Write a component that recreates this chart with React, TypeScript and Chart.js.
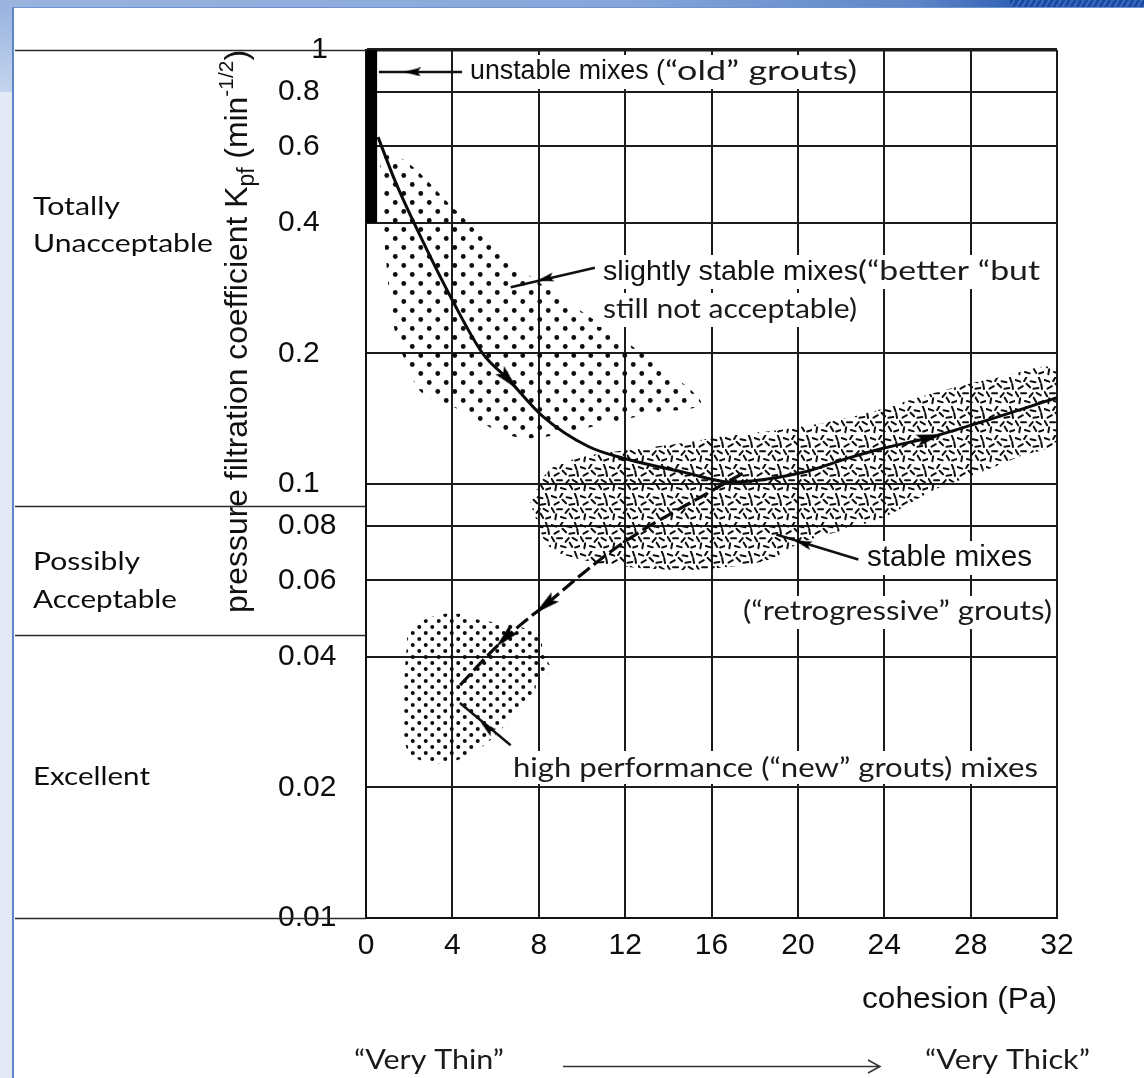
import React, { useEffect, useRef } from "react";
import { Chart, registerables } from "chart.js";

Chart.register(...registerables);

const HELV = '"Liberation Sans", Arial, Helvetica, sans-serif';
const CAL = 'Lato, "Open Sans", sans-serif';

// ---- axes ----
const xTickValues = [0, 4, 8, 12, 16, 20, 24, 28, 32];
const xTickLabels = ["0", "4", "8", "12", "16", "20", "24", "28", "32"];
const yTickValues = [0.01, 0.02, 0.04, 0.06, 0.08, 0.1, 0.2, 0.4, 0.6, 0.8, 1];
const yTickLabels = ["0.01", "0.02", "0.04", "0.06", "0.08", "0.1", "0.2", "0.4", "0.6", "0.8", "    1"];

// ---- acceptance bands (left side) ----
const bandDividers = [1, 0.089, 0.045, 0.01];
const bandNames = ["Totally", "Unacceptable", "Possibly", "Acceptable", "Excellent"];

// ---- marks (cohesion Pa, Kpf) ----
const unstableBar = [
  { x: 0.26, y: 1 },
  { x: 0.26, y: 0.4 },
];
const mainCurve = [
  { x: 0.56, y: 0.63 }, { x: 1.34, y: 0.5 }, { x: 2.6, y: 0.365 }, { x: 4.0, y: 0.265 },
  { x: 5.4, y: 0.2 }, { x: 6.6, y: 0.174 }, { x: 8.2, y: 0.143 }, { x: 10.3, y: 0.122 },
  { x: 12.1, y: 0.114 }, { x: 14.7, y: 0.1065 }, { x: 16.9, y: 0.101 }, { x: 20.1, y: 0.106 },
  { x: 22.4, y: 0.115 }, { x: 24.0, y: 0.121 }, { x: 26.1, y: 0.128 }, { x: 28.1, y: 0.137 },
  { x: 32, y: 0.158 },
];
const dashedPath = [
  { x: 4.36, y: 0.0344 }, { x: 5.75, y: 0.0408 }, { x: 7.14, y: 0.0473 }, { x: 8.3, y: 0.0526 },
  { x: 10.24, y: 0.0634 }, { x: 12.1, y: 0.0743 }, { x: 16.08, y: 0.0969 }, { x: 17.57, y: 0.1066 },
];
const slightlyRegion = [
  { x: 0.65, y: 0.59 }, { x: 1.95, y: 0.55 }, { x: 4.0, y: 0.435 }, { x: 6.45, y: 0.333 },
  { x: 8.75, y: 0.275 }, { x: 11.9, y: 0.215 }, { x: 14.9, y: 0.167 }, { x: 15.5, y: 0.152 },
  { x: 13.4, y: 0.146 }, { x: 10.3, y: 0.135 }, { x: 7.05, y: 0.128 }, { x: 4.1, y: 0.15 },
  { x: 2.6, y: 0.162 }, { x: 1.95, y: 0.186 }, { x: 1.35, y: 0.223 }, { x: 0.9, y: 0.34 },
  { x: 0.65, y: 0.54 }, { x: 0.65, y: 0.59 },
];
const stableRegion = [
  { x: 7.6, y: 0.0904 }, { x: 8.5, y: 0.1077 }, { x: 10.05, y: 0.1154 }, { x: 12.1, y: 0.1198 },
  { x: 14.7, y: 0.1243 }, { x: 16.3, y: 0.1283 }, { x: 20.1, y: 0.1353 }, { x: 23.2, y: 0.1458 },
  { x: 26.3, y: 0.1621 }, { x: 29.4, y: 0.1764 }, { x: 32, y: 0.183 }, { x: 32, y: 0.1263 },
  { x: 30.2, y: 0.1154 }, { x: 27.9, y: 0.1038 }, { x: 26.3, y: 0.0969 }, { x: 24.0, y: 0.0839 },
  { x: 22.1, y: 0.0783 }, { x: 20.1, y: 0.0731 }, { x: 18.6, y: 0.0668 }, { x: 16.3, y: 0.064 },
  { x: 14.7, y: 0.0634 }, { x: 12.1, y: 0.0644 }, { x: 10.05, y: 0.0668 }, { x: 8.5, y: 0.0716 },
  { x: 7.9, y: 0.0826 }, { x: 7.6, y: 0.0904 },
];
const highPerfRegion = [
  { x: 1.9, y: 0.0456 }, { x: 2.65, y: 0.0486 }, { x: 4.0, y: 0.0504 }, { x: 5.3, y: 0.0486 },
  { x: 7.15, y: 0.0468 }, { x: 8.05, y: 0.0444 }, { x: 8.2, y: 0.0408 }, { x: 8.55, y: 0.0373 },
  { x: 7.95, y: 0.0353 }, { x: 7.75, y: 0.0323 }, { x: 6.8, y: 0.029 }, { x: 5.9, y: 0.0261 },
  { x: 4.95, y: 0.024 }, { x: 3.75, y: 0.0228 }, { x: 2.5, y: 0.0231 }, { x: 1.9, y: 0.0244 },
  { x: 1.7, y: 0.0302 }, { x: 1.8, y: 0.0373 }, { x: 1.9, y: 0.043 }, { x: 1.9, y: 0.0456 },
];
const leaderUnstable = [{ x: 0.6, y: 0.89 }, { x: 4.45, y: 0.89 }];
const leaderSlightly = [{ x: 6.7, y: 0.284 }, { x: 10.6, y: 0.315 }];
const leaderStable = [{ x: 19.0, y: 0.0765 }, { x: 22.8, y: 0.067 }];
const leaderHighPerf = [{ x: 4.35, y: 0.0313 }, { x: 6.7, y: 0.025 }];

const curveArrows = [
  { x: 6.6, y: 0.174 }, { x: 26.1, y: 0.128 }, { x: 8.3, y: 0.0526 }, { x: 6.44, y: 0.0442 },
];
const curveArrowAngles = [137, 76, 231, 225];
const leaderArrows = [
  { x: 2.15, y: 0.89 }, { x: 8.3, y: 0.297 }, { x: 20.25, y: 0.073 }, { x: 5.6, y: 0.0275 },
];
const leaderArrowAngles = [270, 257, 287, 310];

// ---- helpers ----
function makeTile(w: number, h: number, draw: (g: CanvasRenderingContext2D) => void) {
  const c = document.createElement("canvas");
  c.width = w;
  c.height = h;
  const g = c.getContext("2d")!;
  draw(g);
  return c;
}

function dotTile(w: number, h: number, r: number) {
  return makeTile(w, h, (g) => {
    g.fillStyle = "#0d0d0d";
    const pts = [
      [w * 0.25, h * 0.25],
      [w * 0.75, h * 0.75],
    ];
    for (const [px, py] of pts) {
      g.beginPath();
      g.arc(px, py, r, 0, Math.PI * 2);
      g.fill();
    }
  });
}

function dashTile() {
  const marks = [
    [3, 4, 20], [11, 2, -60], [19, 5, 10], [26, 3, 70], [6, 11, -30], [14, 9, 45],
    [22, 12, -10], [28, 10, 80], [2, 18, 60], [9, 17, 0], [17, 19, -50], [25, 18, 30],
    [5, 25, -80], [13, 26, 15], [21, 24, 60], [28, 26, -20],
  ];
  const sc = 0.95;
  return makeTile(Math.round(30 * sc), Math.round(30 * sc), (g) => {
    g.strokeStyle = "#0d0d0d";
    g.lineWidth = 2.0;
    g.lineCap = "round";
    for (const [mx0, my0, a] of marks) {
      const mx = mx0 * sc;
      const my = my0 * sc;
      const rad = (a * Math.PI) / 180;
      const dx = Math.cos(rad) * 2.5;
      const dy = Math.sin(rad) * 2.5;
      g.beginPath();
      g.moveTo(mx - dx, my - dy);
      g.lineTo(mx + dx, my + dy);
      g.stroke();
    }
  });
}

function arrowHead(w: number, l: number) {
  return makeTile(w, l, (g) => {
    g.fillStyle = "#000";
    g.beginPath();
    g.moveTo(w / 2, 0);
    g.lineTo(w, l);
    g.lineTo(w / 2, l * 0.8);
    g.lineTo(0, l);
    g.closePath();
    g.fill();
  });
}

type Seg = { t: string; font: string; size: number; w?: number; dy?: number; color?: string };

function drawSegs(ctx: CanvasRenderingContext2D, segs: Seg[], x: number, y: number) {
  let cx = x;
  for (const s of segs) {
    ctx.save();
    ctx.font = `${s.size}px ${s.font}`;
    ctx.textBaseline = "middle";
    ctx.textAlign = "left";
    ctx.fillStyle = s.color || "#111";
    const m = ctx.measureText(s.t).width;
    const k = s.w ? s.w / m : 1;
    ctx.translate(cx, y + (s.dy || 0));
    ctx.scale(k, 1);
    ctx.fillText(s.t, 0, 0);
    ctx.restore();
    cx += m * k;
  }
}

const textPlugin = {
  id: "texts",
  afterDraw(chart: any) {
    const ctx: CanvasRenderingContext2D = chart.ctx;
    const ys = chart.scales.y;
    const area = chart.chartArea;
    ctx.save();

    // band divider lines at left
    ctx.strokeStyle = "#2a2a2a";
    ctx.lineWidth = 1.6;
    for (const v of bandDividers) {
      const py = Math.round(ys.getPixelForValue(v)) + 0.5;
      ctx.beginPath();
      ctx.moveTo(15, py);
      ctx.lineTo(area.left, py);
      ctx.stroke();
    }

    // band names
    const bandPos: [number, number][] = [[207, 87], [244, 180], [562, 107], [600, 144], [777, 117]];
    bandNames.forEach((n, i) => {
      drawSegs(ctx, [{ t: n, font: CAL, size: 25, w: bandPos[i][1], color: "#0d0d0d" }], 33, bandPos[i][0]);
    });

    // y axis title (rotated)
    ctx.save();
    ctx.translate(247, 613);
    ctx.rotate(-Math.PI / 2);
    const tsegs: Seg[] = [
      { t: "pressure filtration coefficient K", font: HELV, size: 32 },
      { t: "pf", font: HELV, size: 23, dy: 7 },
      { t: " (min", font: HELV, size: 32 },
      { t: "-1/2", font: HELV, size: 21, dy: -14 },
      { t: ")", font: HELV, size: 32 },
    ];
    let total = 0;
    for (const s of tsegs) {
      ctx.font = `${s.size}px ${s.font}`;
      total += ctx.measureText(s.t).width;
    }
    const k = 563 / total;
    ctx.scale(k, 1);
    let cx = 0;
    ctx.fillStyle = "#111";
    ctx.textBaseline = "alphabetic";
    ctx.textAlign = "left";
    for (const s of tsegs) {
      ctx.font = `${s.size}px ${s.font}`;
      ctx.fillText(s.t, cx, s.dy || 0);
      cx += ctx.measureText(s.t).width;
    }
    ctx.restore();

    // white boxes behind annotations
    ctx.fillStyle = "#fff";
    const boxes = [
      [466, 55, 396, 34],
      [598, 255, 452, 34],
      [598, 293, 262, 34],
      [862, 541, 176, 34],
      [739, 596, 317, 33],
      [508, 751, 545, 33],
    ];
    for (const b of boxes) ctx.fillRect(b[0], b[1], b[2], b[3]);

    // annotations
    drawSegs(ctx, [
      { t: "unstable mixes (", font: HELV, size: 27, w: 195 },
      { t: "“old” grouts)", font: CAL, size: 26, w: 192, color: "#1a1a1a" },
    ], 470, 72);
    drawSegs(ctx, [
      { t: "slightly stable mixes", font: HELV, size: 28, w: 255 },
      { t: "(“better “but", font: CAL, size: 26, w: 182, color: "#1a1a1a" },
    ], 603, 272);
    drawSegs(ctx, [{ t: "still not acceptable)", font: CAL, size: 26, w: 254, color: "#1a1a1a" }], 603, 310);
    drawSegs(ctx, [{ t: "stable mixes", font: HELV, size: 29, w: 165 }], 867, 558);
    drawSegs(ctx, [{ t: "(“retrogressive” grouts)", font: CAL, size: 26, w: 309, color: "#1a1a1a" }], 743, 612);
    drawSegs(ctx, [{ t: "high performance (“new” grouts) mixes", font: CAL, size: 27, w: 525, color: "#1a1a1a" }], 513, 768);

    // x axis title
    drawSegs(ctx, [{ t: "cohesion (Pa)", font: HELV, size: 30, w: 195 }], 862, 1000);

    // thin -> thick
    drawSegs(ctx, [{ t: "“Very Thin”", font: CAL, size: 27, w: 150, color: "#1a1a1a" }], 354, 1060);
    drawSegs(ctx, [{ t: "“Very Thick”", font: CAL, size: 27, w: 165, color: "#1a1a1a" }], 925, 1060);
    ctx.strokeStyle = "#333";
    ctx.lineWidth = 1.5;
    ctx.beginPath();
    ctx.moveTo(563, 1066.5);
    ctx.lineTo(880, 1066.5);
    ctx.moveTo(868, 1060);
    ctx.lineTo(880, 1066.5);
    ctx.lineTo(868, 1073);
    ctx.stroke();

    ctx.restore();
  },
};

export default function App() {
  const ref = useRef<HTMLCanvasElement | null>(null);

  useEffect(() => {
    const canvas = ref.current;
    if (!canvas) return;
    const ctx = canvas.getContext("2d")!;
    const patSlightly = ctx.createPattern(dotTile(17, 18, 2.4), "repeat");
    const patHigh = ctx.createPattern(dotTile(13, 12, 2.0), "repeat");
    const patStable = ctx.createPattern(dashTile(), "repeat");
    const bigArrow = arrowHead(12, 26);
    const smallArrow = arrowHead(9, 17);

    const lineBase = { pointRadius: 0, fill: false, showLine: true };
    const chart = new Chart(canvas, {
      type: "line",
      data: {
        datasets: [
          {
            label: "curve arrows",
            data: curveArrows,
            showLine: false,
            pointStyle: bigArrow as any,
            pointRadius: 13,
            rotation: (c: any) => curveArrowAngles[c.dataIndex] ?? 0,
            order: 0,
          },
          {
            label: "leader arrows",
            data: leaderArrows,
            showLine: false,
            pointStyle: smallArrow as any,
            pointRadius: 9,
            rotation: (c: any) => leaderArrowAngles[c.dataIndex] ?? 0,
            order: 0,
          },
          { ...lineBase, label: "unstable mixes", data: unstableBar, borderColor: "#000", borderWidth: 11, borderCapStyle: "butt", order: 1 },
          { ...lineBase, label: "mix path", data: mainCurve, borderColor: "#0a0a0a", borderWidth: 3, cubicInterpolationMode: "monotone", order: 1 },
          { ...lineBase, label: "to new grouts", data: dashedPath, borderColor: "#0a0a0a", borderWidth: 3.2, borderDash: [15, 5], cubicInterpolationMode: "monotone", order: 1 },
          { ...lineBase, label: "leader 1", data: leaderUnstable, borderColor: "#111", borderWidth: 2.5, order: 1 },
          { ...lineBase, label: "leader 2", data: leaderSlightly, borderColor: "#111", borderWidth: 2.5, order: 1 },
          { ...lineBase, label: "leader 3", data: leaderStable, borderColor: "#111", borderWidth: 2.5, order: 1 },
          { ...lineBase, label: "leader 4", data: leaderHighPerf, borderColor: "#111", borderWidth: 2.5, order: 1 },
          { ...lineBase, label: "slightly stable mixes", data: slightlyRegion, fill: "shape", backgroundColor: patSlightly as any, borderColor: "rgba(0,0,0,0)", borderWidth: 0, tension: 0.35, order: 5 },
          { ...lineBase, label: "stable mixes", data: stableRegion, fill: "shape", backgroundColor: patStable as any, borderColor: "rgba(0,0,0,0)", borderWidth: 0, tension: 0.35, order: 5 },
          { ...lineBase, label: "high performance mixes", data: highPerfRegion, fill: "shape", backgroundColor: patHigh as any, borderColor: "rgba(0,0,0,0)", borderWidth: 0, tension: 0.35, order: 5 },
        ] as any,
      },
      options: {
        responsive: false,
        animation: false,
        devicePixelRatio: 1,
        events: [],
        layout: { padding: { left: 278, top: 50, right: 87, bottom: 0 } },
        plugins: {
          legend: { display: false },
          tooltip: { enabled: false },
          title: { display: false },
        },
        scales: {
          x: {
            type: "linear",
            min: 0,
            max: 32,
            afterBuildTicks: (s: any) => {
              s.ticks = xTickValues.map((v) => ({ value: v }));
            },
            afterFit: (s: any) => {
              s.height = 160;
            },
            ticks: {
              autoSkip: false,
              maxRotation: 0,
              padding: 10,
              color: "#0d0d0d",
              font: { family: HELV, size: 30 },
              callback: (v: any) => {
                const i = xTickValues.indexOf(Number(v));
                return i >= 0 ? xTickLabels[i] : "";
              },
            },
            grid: { color: "#1c1c1c", lineWidth: 2, drawTicks: false },
            border: { display: true, color: "#111", width: 2 },
          },
          y: {
            type: "logarithmic",
            min: 0.01,
            max: 1,
            afterBuildTicks: (s: any) => {
              s.ticks = yTickValues.map((v) => ({ value: v }));
            },
            afterFit: (s: any) => {
              s.width = 88;
            },
            ticks: {
              autoSkip: false,
              crossAlign: "far",
              padding: 0,
              color: "#0d0d0d",
              font: { family: HELV, size: 30 },
              callback: (v: any) => {
                const i = yTickValues.indexOf(Number(v));
                return i >= 0 ? yTickLabels[i] : "";
              },
            },
            grid: {
              color: "#1c1c1c",
              lineWidth: (c: any) => (c.tick && c.tick.value === 1 ? 3.5 : 2),
              drawTicks: false,
            },
            border: { display: true, color: "#111", width: 2 },
          },
        },
      } as any,
      plugins: [textPlugin],
    });
    return () => chart.destroy();
  }, []);

  return (
    <div
      style={{
        position: "fixed",
        left: 0,
        top: 0,
        width: 1144,
        height: 1078,
        overflow: "hidden",
        background: "#e3eaf6",
      }}
    >
      <div style={{ position: "absolute", left: 0, top: 0, width: 12, height: 92, background: "linear-gradient(#96b2de, #c4d4ee)" }} />
      <div
        style={{
          position: "absolute",
          left: 0,
          top: 0,
          width: 1144,
          height: 7,
          background: "linear-gradient(to right, #9ab4de, #86a6da 55%, #5f86c8 80%, #2a5cb2 90%, #1c4ea6)",
        }}
      />
      <div
        style={{
          position: "absolute",
          left: 1010,
          top: 0,
          width: 134,
          height: 7,
          background: "repeating-linear-gradient(120deg, #1a4aa2 0 3px, #3a6abd 3px 5px)",
        }}
      />
      <div
        style={{
          position: "absolute",
          left: 12,
          top: 7,
          right: 0,
          bottom: 0,
          background: "#fff",
          borderLeft: "2px solid #5c86c8",
          borderTop: "1px solid #6d93cf",
        }}
      />
      <canvas ref={ref} width={1144} height={1078} style={{ position: "absolute", left: 0, top: 0 }} />
    </div>
  );
}
